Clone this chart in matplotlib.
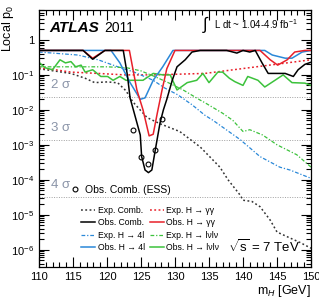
import numpy as np
import matplotlib
matplotlib.use("Agg")
import matplotlib.pyplot as plt
from matplotlib.lines import Line2D
from matplotlib.ticker import MultipleLocator, LogLocator, FixedLocator, FuncFormatter

plt.rcParams['font.family'] = ['Liberation Sans', 'DejaVu Sans']
plt.rcParams['mathtext.fontset'] = 'custom'
plt.rcParams['mathtext.rm'] = 'Liberation Sans'
plt.rcParams['mathtext.it'] = 'Liberation Sans:italic'

## observed curves
m_obs_comb = [110, 116.5, 117.9, 119.7, 122.4, 123.0, 123.4, 124.9, 125.1, 125.6, 126.1, 126.6, 127.1,
              127.8, 128.3, 128.8, 129.6, 130.3, 131.5, 132.5, 133.7, 137.6, 139.1, 140.0, 141.0, 141.8,
              142.8, 143.7, 146.2, 147.4, 148.1, 149.1, 150]
p_obs_comb = [0.5, 0.5, 0.28, 0.5, 0.5, 0.1, 0.022, 0.0019, 4.6e-4, 1.9e-4, 1.6e-4, 1.9e-4, 7e-4,
              4.2e-3, 0.01, 0.02, 0.07, 0.17, 0.27, 0.45, 0.5, 0.5, 0.42, 0.5, 0.45, 0.5,
              0.22, 0.11, 0.11, 0.09, 0.14, 0.2, 0.23]

m_obs_gg = [110, 116.5, 117.9, 119.7, 123.3, 124.4, 125.3, 126.2, 126.8, 127.4, 128.1, 128.8, 130,
            142.5, 144, 145.1, 146.5, 147.6, 149.1, 150]
p_obs_gg = [0.5, 0.5, 0.3, 0.5, 0.5, 0.037, 0.01, 0.0018, 0.002, 0.008, 0.037, 0.15, 0.5,
            0.5, 0.27, 0.19, 0.27, 0.45, 0.5, 0.5]

m_obs_4l = [110, 120.6, 121.9, 123.4, 124.9, 125.6, 126.8, 128.2, 129.7, 143.2, 144.3, 146.2, 147.2, 148.7, 150]
p_obs_4l = [0.5, 0.5, 0.22, 0.06, 0.02, 0.022, 0.07, 0.17, 0.5, 0.5, 0.37, 0.3, 0.3, 0.45, 0.5]

m_obs_ww = [110, 110.9, 112, 113.1, 113.9, 114.7, 115.4, 116.2, 116.8, 117.9, 119.1, 120.1, 120.9, 121.9,
            122.8, 123.4, 125.3, 126.8, 128.2, 129.3, 130.3, 131.8, 133.2, 134.1, 135, 136.3, 137, 138,
            138.8, 140, 140.7, 142.2, 143.2, 144.7, 145.9, 147.2, 149.1, 150]
p_obs_ww = [0.23, 0.16, 0.14, 0.27, 0.22, 0.24, 0.17, 0.19, 0.12, 0.14, 0.09, 0.09, 0.07, 0.09,
            0.07, 0.07, 0.07, 0.11, 0.1, 0.1, 0.037, 0.06, 0.07, 0.11, 0.06, 0.12, 0.12, 0.08,
            0.064, 0.05, 0.09, 0.07, 0.045, 0.07, 0.1, 0.06, 0.058, 0.05]

## expected curves
m_exp_comb = [110, 114.7, 116.8, 118.2, 120.1, 121.6, 122.8, 123.8, 125.9, 127.8, 130.7, 133.7, 136.6,
              137.8, 139.6, 140, 141.3, 142.5, 144, 145, 146.6, 148.4, 150]
p_exp_comb = [0.15, 0.11, 0.08, 0.06, 0.063, 0.059, 0.035, 0.017, 0.006, 0.004, 2.4e-3, 8.7e-4, 2.3e-4,
              1.0e-4, 3.6e-5, 2.6e-5, 2.4e-5, 1.7e-5, 7e-6, 3.2e-6, 2.3e-6, 1.6e-6, 1.1e-6]

m_exp_gg = [110, 112.4, 114.7, 118.7, 122.6, 127, 134.4, 150]
p_exp_gg = [0.16, 0.14, 0.12, 0.11, 0.1, 0.1, 0.11, 0.27]

m_exp_4l = [110, 115.7, 118.7, 121.6, 124, 126.8, 128.5, 130.4, 132.5, 134.4, 135.6, 139.6, 142.5, 145.4, 146.9, 150]
p_exp_4l = [0.45, 0.37, 0.27, 0.17, 0.12, 0.07, 0.042, 0.027, 0.014, 7e-3, 5e-3, 1.4e-3, 4.6e-4, 2.3e-4, 1.9e-4, 1.1e-4]

m_exp_ww = [110, 115, 120, 122.9, 125, 127, 129, 131.2, 133.7, 134.4, 137, 138.5, 140, 141, 142.9, 145, 147.9, 150]
p_exp_ww = [0.17, 0.17, 0.17, 0.16, 0.13, 0.09, 0.06, 0.037, 0.019, 0.016, 8e-3, 5e-3, 2.4e-3, 2.7e-3, 1.9e-3, 1e-3, 5.2e-4, 2.3e-4]

## ESS points
m_ess = [123.8, 125.0, 126.0, 127.1, 128.1]
p_ess = [2.7e-3, 4.6e-4, 2.9e-4, 7.2e-4, 5.5e-3]

sigma_labels = ['2 σ', '3 σ', '4 σ']
sigma_p = [0.0228, 1.35e-3, 3.17e-5]

RED = '#e8202a'
BLUE = '#2a88d8'
GREEN = '#3cc23c'

fig = plt.figure(figsize=(3.19, 3.01), dpi=100)
ax = fig.add_axes([0.122, 0.113, 0.853, 0.854])

for p, lab in zip(sigma_p, sigma_labels):
    ax.axhline(p, color='#a0a0a0', lw=0.7, ls=(0, (1, 1.5)))
    ax.text(111.8, p * 1.5, lab, color='#8a94a8', fontsize=9.5, va='bottom')

ax.plot(m_exp_comb, p_exp_comb, color='#333333', lw=1.1, ls=(0, (1.2, 1.6)))
ax.plot(m_exp_gg, p_exp_gg, color=RED, lw=1.1, ls=(0, (1.2, 1.6)))
ax.plot(m_exp_4l, p_exp_4l, color=BLUE, lw=0.9, ls=(0, (3, 1.5, 1, 1.5)))
ax.plot(m_exp_ww, p_exp_ww, color=GREEN, lw=0.9, ls=(0, (3, 1.5, 1, 1.5)))
ax.plot(m_obs_ww, p_obs_ww, color=GREEN, lw=1.1)
ax.plot(m_obs_4l, p_obs_4l, color=BLUE, lw=1.1)
ax.plot(m_obs_gg, p_obs_gg, color=RED, lw=1.1)
ax.plot(m_obs_comb, p_obs_comb, color='black', lw=1.1)
ax.plot(m_ess, p_ess, ls='none', marker='o', ms=3.5, mfc='none', mec='black', mew=0.8)

ax.set_yscale('log')
ax.set_xlim(110, 150)
ax.set_ylim(3.2e-7, 7.2)

ax.xaxis.set_major_locator(MultipleLocator(5))
ax.xaxis.set_minor_locator(MultipleLocator(1))
ax.yaxis.set_major_locator(FixedLocator([1e-6, 1e-5, 1e-4, 1e-3, 1e-2, 1e-1, 1]))
ax.yaxis.set_minor_locator(LogLocator(base=10, subs=np.arange(2, 10)))
ax.yaxis.set_minor_formatter(FuncFormatter(lambda v, pos: ''))
ax.yaxis.set_major_formatter(FuncFormatter(
    lambda v, pos: '1' if abs(v - 1) < 1e-9 else r'$10^{%d}$' % int(round(np.log10(v)))))
ax.tick_params(which='both', direction='in', top=True, right=True, labelsize=8, width=0.8)
ax.tick_params(which='major', length=7)
ax.tick_params(which='minor', length=3.5)
for s in ax.spines.values():
    s.set_linewidth(0.9)

fig.text(0.975, 0.005, r'm$_H$ [GeV]', ha='right', va='bottom', fontsize=9)
fig.text(0.025, 0.985, r'Local p$_0$', rotation=90, ha='center', va='top', fontsize=9)

ax.text(0.04, 0.93, 'ATLAS', transform=ax.transAxes, fontsize=11, fontweight='bold', style='italic', va='center')
ax.text(0.24, 0.93, '2011', transform=ax.transAxes, fontsize=10, va='center')
ax.text(0.6, 0.945, r'$\int$', transform=ax.transAxes, fontsize=12, va='center')
ax.text(0.645, 0.945, r'L dt ~ 1.04-4.9 fb$^{-1}$', transform=ax.transAxes, fontsize=7, va='center')
ax.text(0.695, 0.078, r'$\sqrt{\mathrm{s}}$ = 7 TeV', transform=ax.transAxes, fontsize=9.5, va='center')

h_ess = [Line2D([], [], ls='none', marker='o', ms=3.5, mfc='none', mec='black', mew=0.8)]
leg1 = ax.legend(h_ess, ['Obs. Comb. (ESS)'], loc='upper left', bbox_to_anchor=(0.09, 0.34),
                 frameon=False, fontsize=7.5, handlelength=1.2, handletextpad=0.4, borderpad=0)
ax.add_artist(leg1)

handles = [
    Line2D([], [], color='#333333', lw=1.1, ls=(0, (1.2, 1.6))),
    Line2D([], [], color='black', lw=1.1),
    Line2D([], [], color=BLUE, lw=0.9, ls=(0, (3, 1.5, 1, 1.5))),
    Line2D([], [], color=BLUE, lw=1.1),
    Line2D([], [], color=RED, lw=1.1, ls=(0, (1.2, 1.6))),
    Line2D([], [], color=RED, lw=1.1),
    Line2D([], [], color=GREEN, lw=0.9, ls=(0, (3, 1.5, 1, 1.5))),
    Line2D([], [], color=GREEN, lw=1.1),
]
labels = ['Exp. Comb.', 'Obs. Comb.', 'Exp. H → 4l', 'Obs. H → 4l',
          'Exp. H → γγ', 'Obs. H → γγ', 'Exp. H → lνlν', 'Obs. H → lνlν']
ax.legend(handles, labels, ncol=2, loc='upper left', bbox_to_anchor=(0.14, 0.255), frameon=False,
          fontsize=6.2, handlelength=1.6, handletextpad=0.3, columnspacing=0.6, labelspacing=0.4, borderpad=0)

fig.savefig('out.png', dpi=100)
